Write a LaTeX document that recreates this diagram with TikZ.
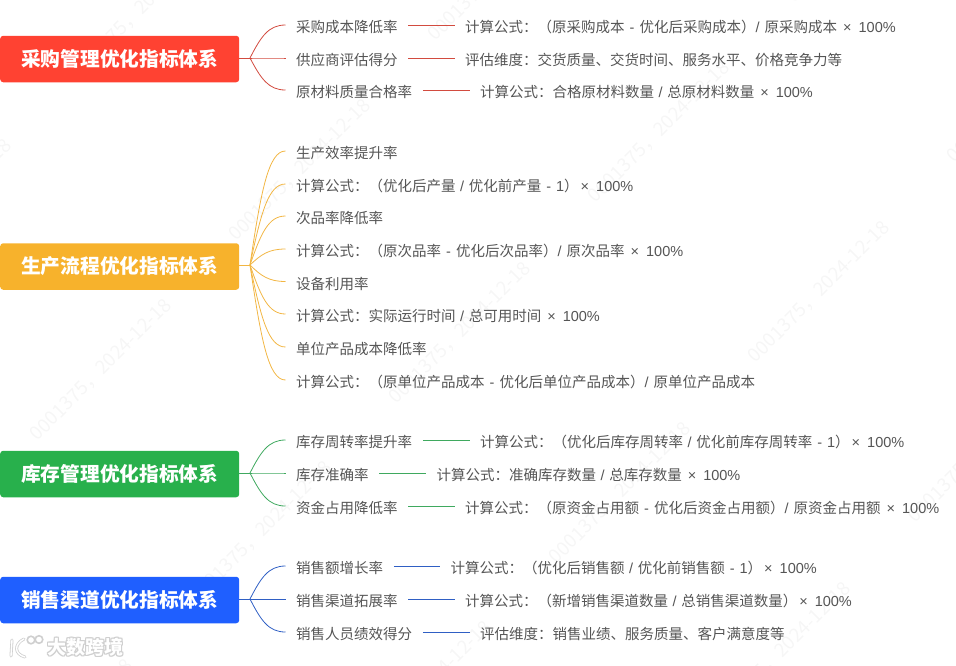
\documentclass[tikz,border=0pt]{standalone}
\usepackage{fontspec}
\setmainfont{Noto Sans CJK SC}
\newfontfamily\lat{Liberation Sans}
\usetikzlibrary{calc}
\definecolor{cR}{HTML}{FF4232}
\definecolor{cO}{HTML}{F7B22C}
\definecolor{cG}{HTML}{28B04C}
\definecolor{cB}{HTML}{1F5FFF}
\definecolor{lR}{HTML}{D24B3F}
\definecolor{lO}{HTML}{F2B643}
\definecolor{lG}{HTML}{3FA95F}
\definecolor{lB}{HTML}{2F5FC4}
\definecolor{txt}{HTML}{555555}
\definecolor{wm}{HTML}{F6F6F6}
\definecolor{logo}{HTML}{CFCFCF}
\newcommand{\mn}{{\lat\ \hspace{1pt}-\hspace{1pt}\ }}
\newcommand{\sla}{{\lat\ \hspace{0.5pt}/\hspace{0.5pt}\ }}
\newcommand{\slb}{{\lat /\hspace{1pt}\ }}
\newcommand{\pct}{{\lat\ \hspace{2pt}×\hspace{3pt}\ 100\%}}
\newcommand{\pcb}{{\lat \hspace{2pt}×\hspace{3pt}\ 100\%}}
\newcommand{\one}{{\lat 1}}
\tikzset{
  x=1pt,y=-1pt,
  rootbox/.style={anchor=west,fill=#1,rounded corners=3pt,minimum width=239pt,minimum height=46.5pt,inner sep=0pt,text=white,font=\fontsize{19.7pt}{22pt}\selectfont\bfseries},
  leaf/.style={anchor=west,inner xsep=10.5pt,inner ysep=0pt,text height=15pt,text depth=0pt,text=txt,font=\fontsize{14.5pt}{16pt}\selectfont},
  branch/.style={line width=0.8pt,#1},
  watermark/.style={rotate=45,text=wm,font=\fontsize{19pt}{22pt}\selectfont,inner sep=0pt},
  logotext/.style={inner sep=0pt,font=\fontsize{19pt}{22pt}\selectfont\bfseries}
}
\newcommand{\twig}[3]{%
  \draw[branch=#1] let \p1=(#2),\p2=(#3.west) in (#2) .. controls ({\x1+11pt},{\y1+0.65*(\y2-\y1)}) and ({\x2-17pt},\y2) .. (#3.west);}
\begin{document}
\begin{tikzpicture}
\useasboundingbox (0,0) rectangle (956,665);
% watermark
\foreach \i/\wx/\wy in {1/140/10,2/300/170,3/460/333,4/620/493,5/780/653,6/-59/210,7/101/370,8/261/532,9/421/692,10/62/730,11/499/-30,12/659/132,13/819/292,14/979/452,15/858/-68,16/1018/92}
  \node[watermark] (wm\i) at (\wx,\wy) {0001375，2024-12-18};
% logo
\foreach \dx/\dy in {-1/0,1/0,0/-1,0/1,-1/-1,1/1,-1/1,1/-1}
  \node[logotext,text=logo,anchor=west] at ({47+\dx},{647+\dy}) {大数跨境};
\node[logotext,text=white,anchor=west] (logot) at (47,647) {大数跨境};
\draw[logo,line width=3pt,line cap=round] (12,640) -- (11,656) (24,639) .. controls (14,644) and (14,654) .. (25,657);
\draw[logo,line width=1.6pt] (31,640) circle (3.8) (39,639.5) circle (3.8);
\draw[white,line width=1.4pt,line cap=round] (12,640) -- (11,656) (24,639) .. controls (14,644) and (14,654) .. (25,657);
% red
\node[rootbox=cR] (r1) at (0,59) {采购管理优化指标体系};
\coordinate (j1) at (250,58);
\node[leaf] (a1) at (285.5,25) {采购成本降低率};
\node[leaf] (a2) at (285.5,58) {供应商评估得分};
\node[leaf] (a3) at (285.5,90) {原材料质量合格率};
\node[leaf] (fa1) at (454.5,25) {计算公式：（原采购成本\mn 优化后采购成本）\slb 原采购成本\pct};
\node[leaf] (fa2) at (454.5,58) {评估维度：交货质量、交货时间、服务水平、价格竞争力等};
\node[leaf] (fa3) at (469.5,90) {计算公式：合格原材料数量\sla 总原材料数量\pct};
\draw[branch=lR] (r1.east |- j1) -- (j1);
\foreach \lf in {a1,a2,a3}{\twig{lR}{j1}{\lf}}
\draw[branch=lR] (a1) -- (fa1);
\draw[branch=lR] (a2) -- (fa2);
\draw[branch=lR] (a3) -- (fa3);
% orange
\node[rootbox=cO] (r2) at (0,266.5) {生产流程优化指标体系};
\coordinate (j2) at (250,265);
\node[leaf] (b1) at (285.5,151) {生产效率提升率};
\node[leaf] (b2) at (285.5,184) {计算公式：（优化后产量\sla 优化前产量\mn\one）\pcb};
\node[leaf] (b3) at (285.5,216) {次品率降低率};
\node[leaf] (b4) at (285.5,249) {计算公式：（原次品率\mn 优化后次品率）\slb 原次品率\pct};
\node[leaf] (b5) at (285.5,281.5) {设备利用率};
\node[leaf] (b6) at (285.5,314) {计算公式：实际运行时间\sla 总可用时间\pct};
\node[leaf] (b7) at (285.5,347) {单位产品成本降低率};
\node[leaf] (b8) at (285.5,380) {计算公式：（原单位产品成本\mn 优化后单位产品成本）\slb 原单位产品成本};
\draw[branch=lO] (r2.east |- j2) -- (j2);
\foreach \lf in {b1,b2,b3,b4,b5,b6,b7,b8}{\twig{lO}{j2}{\lf}}
% green
\node[rootbox=cG] (r3) at (0,474) {库存管理优化指标体系};
\coordinate (j3) at (250,473);
\node[leaf] (c1) at (285.5,440) {库存周转率提升率};
\node[leaf] (c2) at (285.5,473) {库存准确率};
\node[leaf] (c3) at (285.5,506) {资金占用降低率};
\node[leaf] (fc1) at (469.5,440) {计算公式：（优化后库存周转率\sla 优化前库存周转率\mn\one）\pcb};
\node[leaf] (fc2) at (426,473) {计算公式：准确库存数量\sla 总库存数量\pct};
\node[leaf] (fc3) at (454.5,506) {计算公式：（原资金占用额\mn 优化后资金占用额）\slb 原资金占用额\pct};
\draw[branch=lG] (r3.east |- j3) -- (j3);
\foreach \lf in {c1,c2,c3}{\twig{lG}{j3}{\lf}}
\draw[branch=lG] (c1) -- (fc1);
\draw[branch=lG] (c2) -- (fc2);
\draw[branch=lG] (c3) -- (fc3);
% blue
\node[rootbox=cB] (r4) at (0,600) {销售渠道优化指标体系};
\coordinate (j4) at (250,599);
\node[leaf] (d1) at (285.5,566) {销售额增长率};
\node[leaf] (d2) at (285.5,599) {销售渠道拓展率};
\node[leaf] (d3) at (285.5,632) {销售人员绩效得分};
\node[leaf] (fd1) at (440,566) {计算公式：（优化后销售额\sla 优化前销售额\mn\one）\pcb};
\node[leaf] (fd2) at (454.5,599) {计算公式：（新增销售渠道数量\sla 总销售渠道数量）\pcb};
\node[leaf] (fd3) at (469.5,632) {评估维度：销售业绩、服务质量、客户满意度等};
\draw[branch=lB] (r4.east |- j4) -- (j4);
\foreach \lf in {d1,d2,d3}{\twig{lB}{j4}{\lf}}
\draw[branch=lB] (d1) -- (fd1);
\draw[branch=lB] (d2) -- (fd2);
\draw[branch=lB] (d3) -- (fd3);
\end{tikzpicture}
\end{document}
